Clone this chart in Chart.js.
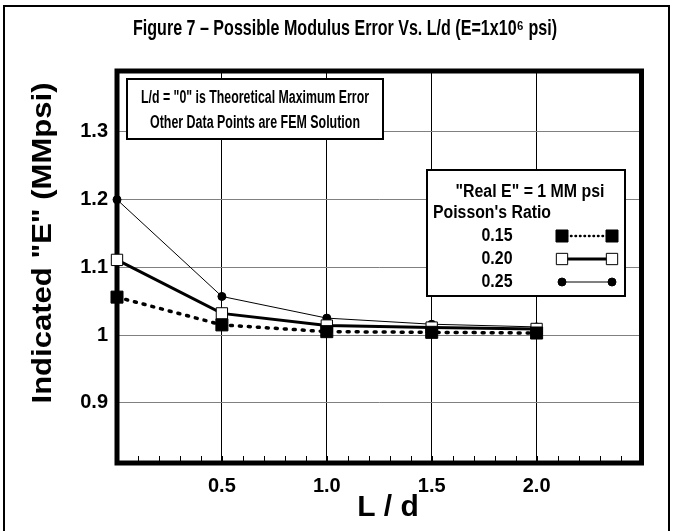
<!DOCTYPE html>
<html>
<head>
<meta charset="utf-8">
<script src="https://cdn.jsdelivr.net/npm/chart.js@4.4.1/dist/chart.umd.min.js"></script>
<style>
    html, body { margin: 0; padding: 0; background: #fff; }
</style>
</head>
<body>
<canvas id="modulusChart" width="673" height="531"></canvas>
<script>
// L/d positions and indicated modulus (MMpsi) per Poisson's ratio
const ldValues = [0, 0.5, 1.0, 1.5, 2.0];
const poisson015 = [1.056, 1.015, 1.005, 1.004, 1.003];
const poisson020 = [1.111, 1.032, 1.014, 1.011, 1.009];
const poisson025 = [1.200, 1.057, 1.025, 1.016, 1.012];
const ratioLabels = ["0.15", "0.20", "0.25"];
const xTicks = [0.5, 1.0, 1.5, 2.0];
const yTicks = [0.9, 1.0, 1.1, 1.2, 1.3];
const chartTitle = "Figure 7 – Possible Modulus Error Vs. L/d (E=1x10⁶ psi)";
const noteLines = ['L/d = "0" is Theoretical Maximum Error', "Other Data Points are FEM Solution"];
const legendHeader = ['"Real E" = 1 MM psi', "Poisson's Ratio"];

const ARIAL = "'Liberation Sans', Arial, sans-serif";

const toPoints = (vals) => vals.map((v, i) => ({ x: ldValues[i], y: v }));

// no Arial Narrow here: squeeze Liberation Sans Bold to the width seen in the figure
function narrowText(ctx, text, x, y, width) {
    ctx.fillText(text, x, y, Math.min(width, ctx.measureText(text).width));
}

function drawMarker(ctx, ds, x, y) {
    Chart.helpers.drawPoint(ctx, {
        pointStyle: ds.pointStyle,
        radius: ds.pointRadius,
        borderWidth: ds.pointBorderWidth,
    }, x, y);
}

const decorations = {
    id: "decorations",
    beforeDraw(chart) {
        const { ctx } = chart;
        ctx.save();
        ctx.fillStyle = "#fff";
        ctx.fillRect(0, 0, chart.width, chart.height);
        ctx.strokeStyle = "#000";
        ctx.lineWidth = 2;
        ctx.strokeRect(4, 6, 665, 560);

        ctx.fillStyle = "#000";
        ctx.textAlign = "center";
        ctx.textBaseline = "middle";

        // title
        ctx.font = "bold 22px " + ARIAL;
        narrowText(ctx, chartTitle, 345, 29, 424);

        // x axis title
        ctx.font = "bold 30px " + ARIAL;
        ctx.fillText("L / d", 388, 508);

        // y axis title, stretched to the reference length
        ctx.translate(43, 243);
        ctx.rotate(-Math.PI / 2);
        ctx.font = "bold 28px " + ARIAL;
        const label = 'Indicated "E" (MMpsi)';
        ctx.scale(321 / ctx.measureText(label).width, 1);
        ctx.fillText(label, 0, 0);
        ctx.restore();
    },
    beforeDatasetsDraw(chart) {
        const { ctx, chartArea: a, scales: { x } } = chart;
        ctx.save();
        ctx.strokeStyle = "#000";

        // minor ticks along the bottom, pointing inward
        ctx.lineWidth = 1;
        for (let i = 1; i < 25; i++) {
            const px = Math.round(x.getPixelForValue(i / 10)) + 0.5;
            ctx.beginPath();
            ctx.moveTo(px, a.bottom);
            ctx.lineTo(px, a.bottom - 7);
            ctx.stroke();
        }

        ctx.lineWidth = 5;
        ctx.strokeRect(a.left, a.top, a.right - a.left, a.bottom - a.top);

        // note box
        ctx.fillStyle = "#fff";
        ctx.lineWidth = 2;
        ctx.fillRect(127, 79, 256, 60);
        ctx.strokeRect(127, 79, 256, 60);
        ctx.fillStyle = "#000";
        ctx.font = "bold 18px " + ARIAL;
        ctx.textAlign = "center";
        ctx.textBaseline = "middle";
        narrowText(ctx, noteLines[0], 255, 98, 228);
        narrowText(ctx, noteLines[1], 255, 123, 210);

        // legend box
        ctx.fillStyle = "#fff";
        ctx.fillRect(427, 170, 198, 126);
        ctx.strokeRect(427, 170, 198, 126);
        ctx.fillStyle = "#000";
        narrowText(ctx, legendHeader[0], 530, 192, 149);
        ctx.textAlign = "left";
        narrowText(ctx, legendHeader[1], 433, 213, 118);
        ctx.textAlign = "center";

        chart.data.datasets.forEach((ds, i) => {
            const yy = 236 + i * 23;
            ctx.fillStyle = "#000";
            narrowText(ctx, ratioLabels[i], 497, yy, 31);
            ctx.save();
            ctx.strokeStyle = ds.borderColor;
            ctx.lineWidth = ds.legendLineWidth;
            ctx.setLineDash(ds.legendDash || []);
            ctx.lineCap = ds.borderCapStyle || "butt";
            ctx.beginPath();
            ctx.moveTo(562, yy);
            ctx.lineTo(612, yy);
            ctx.stroke();
            ctx.restore();
            ctx.save();
            ctx.fillStyle = ds.pointBackgroundColor;
            ctx.strokeStyle = ds.pointBorderColor;
            ctx.lineWidth = ds.pointBorderWidth;
            drawMarker(ctx, ds, 562, yy);
            drawMarker(ctx, ds, 612, yy);
            ctx.restore();
        });
        ctx.restore();
    },
};

new Chart(document.getElementById("modulusChart"), {
    type: "line",
    data: {
        datasets: [
            {
                label: ratioLabels[0],
                data: toPoints(poisson015),
                borderColor: "#000",
                borderWidth: 3.5,
                borderDash: [2, 7],
                borderCapStyle: "round",
                legendLineWidth: 2.5,
                legendDash: [0.5, 4],
                pointStyle: "rect",
                pointRadius: 8.5,
                pointBackgroundColor: "#000",
                pointBorderColor: "#000",
                pointBorderWidth: 1,
                clip: false,
            },
            {
                label: ratioLabels[1],
                data: toPoints(poisson020),
                borderColor: "#000",
                borderWidth: 3,
                legendLineWidth: 3,
                pointStyle: "rect",
                pointRadius: 8,
                pointBackgroundColor: "#fff",
                pointBorderColor: "#000",
                pointBorderWidth: 1,
                clip: false,
            },
            {
                label: ratioLabels[2],
                data: toPoints(poisson025),
                borderColor: "#000",
                borderWidth: 1,
                legendLineWidth: 1,
                pointStyle: "circle",
                pointRadius: 4,
                pointBackgroundColor: "#000",
                pointBorderColor: "#000",
                pointBorderWidth: 1,
                clip: false,
            },
        ],
    },
    options: {
        responsive: false,
        animation: false,
        layout: { padding: { left: 0, right: 31.5, top: 71, bottom: 0 } },
        scales: {
            x: {
                type: "linear",
                min: 0,
                max: 2.5,
                afterBuildTicks: (s) => { s.ticks = xTicks.map((v) => ({ value: v })); },
                afterFit: (s) => { s.height = 68; },
                grid: { color: "#000", lineWidth: 1, drawTicks: false },
                border: { display: false },
                ticks: {
                    color: "#000",
                    padding: 11,
                    maxRotation: 0,
                    autoSkip: false,
                    font: { family: ARIAL, size: 20, weight: "bold" },
                    callback: (v) => Number(v).toFixed(1),
                },
            },
            y: {
                min: 0.811,
                max: 1.39,
                afterBuildTicks: (s) => { s.ticks = yTicks.map((v) => ({ value: v })); },
                afterFit: (s) => { s.width = 117; },
                grid: { color: "#808080", lineWidth: 1, drawTicks: false },
                border: { display: false },
                ticks: {
                    color: "#000",
                    padding: 9,
                    font: { family: ARIAL, size: 20, weight: "bold" },
                    callback: (v) => String(Math.round(v * 10) / 10),
                },
            },
        },
        plugins: {
            legend: { display: false },
            tooltip: { enabled: false },
            title: { display: false },
        },
    },
    plugins: [decorations],
});
</script>
</body>
</html>
